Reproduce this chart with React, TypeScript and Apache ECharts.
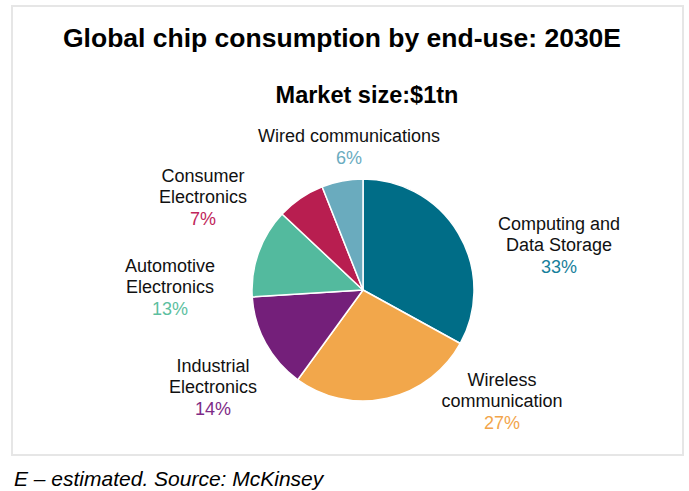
import React, { useEffect, useRef } from "react";
import * as echarts from "echarts";

const categories = [
  "Computing and\nData Storage",
  "Wireless\ncommunication",
  "Industrial\nElectronics",
  "Automotive\nElectronics",
  "Consumer\nElectronics",
  "Wired communications",
];
const shares = [33, 27, 14, 13, 7, 6];
const sliceColors = ["#006D87", "#F2A74B", "#741F7A", "#53BA9E", "#B81E50", "#6AABBE"];
const pctColors = ["#17809B", "#F2A54A", "#7E2B86", "#5DBFA0", "#C0265A", "#6AACBF"];
const labelPos: [number, number][] = [
  [559, 245],
  [502, 401],
  [213, 387],
  [170, 287],
  [203, 197],
  [349, 147],
];

const FONT = "'Liberation Sans', Arial, Helvetica, sans-serif";

export default function App() {
  const ref = useRef<HTMLDivElement>(null);
  useEffect(() => {
    if (!ref.current) return;
    const chart = echarts.init(ref.current, undefined, { renderer: "svg" });
    const data = categories.map((name, i) => ({
      name,
      value: shares[i],
      itemStyle: { color: sliceColors[i] },
      label: {
        formatter: () =>
          name
            .split("\n")
            .map((l) => `{n|${l}}`)
            .join("\n") + `\n{p|${shares[i]}%}`,
        rich: {
          n: { fontFamily: FONT, fontSize: 18, color: "#111", lineHeight: 21.5, align: "center" },
          p: { fontFamily: FONT, fontSize: 18, color: pctColors[i], lineHeight: 21.5, align: "center" },
        },
      },
    }));
    chart.setOption({
      animation: false,
      backgroundColor: "#fff",
      graphic: [
        {
          type: "rect",
          shape: { x: 12, y: 6, width: 671, height: 449 },
          style: { fill: "none", stroke: "#e6e6e6", lineWidth: 2 },
          z: 0,
        },
        {
          type: "text",
          x: 342,
          y: 38,
          style: {
            text: "Global chip consumption by end-use: 2030E",
            fontFamily: FONT,
            fontSize: 26.5,
            fontWeight: "bold",
            fill: "#000",
            textAlign: "center",
            textVerticalAlign: "middle",
          },
        },
        {
          type: "text",
          x: 367,
          y: 95,
          style: {
            text: "Market size:$1tn",
            fontFamily: FONT,
            fontSize: 23.5,
            fontWeight: "bold",
            fill: "#000",
            textAlign: "center",
            textVerticalAlign: "middle",
          },
        },
        {
          type: "text",
          x: 14,
          y: 478,
          style: {
            text: "E – estimated. Source: McKinsey",
            fontFamily: FONT,
            fontSize: 21,
            fontStyle: "italic",
            fill: "#000",
            textAlign: "left",
            textVerticalAlign: "middle",
          },
        },
      ],
      series: [
        {
          type: "pie",
          center: [363, 290],
          radius: [0, 111],
          startAngle: 90,
          clockwise: true,
          avoidLabelOverlap: false,
          itemStyle: { borderColor: "#fff", borderWidth: 1.5 },
          label: { show: true, position: "outside" },
          labelLine: { show: false },
          emphasis: { disabled: true },
          labelLayout: (params: any) => {
            const p = labelPos[params.dataIndex];
            return { x: p[0], y: p[1], align: "center", verticalAlign: "middle" };
          },
          data,
        },
      ],
    });
    return () => chart.dispose();
  }, []);
  return (
    <div
      ref={ref}
      style={{ position: "fixed", left: 0, top: 0, width: 689, height: 491 }}
    />
  );
}
